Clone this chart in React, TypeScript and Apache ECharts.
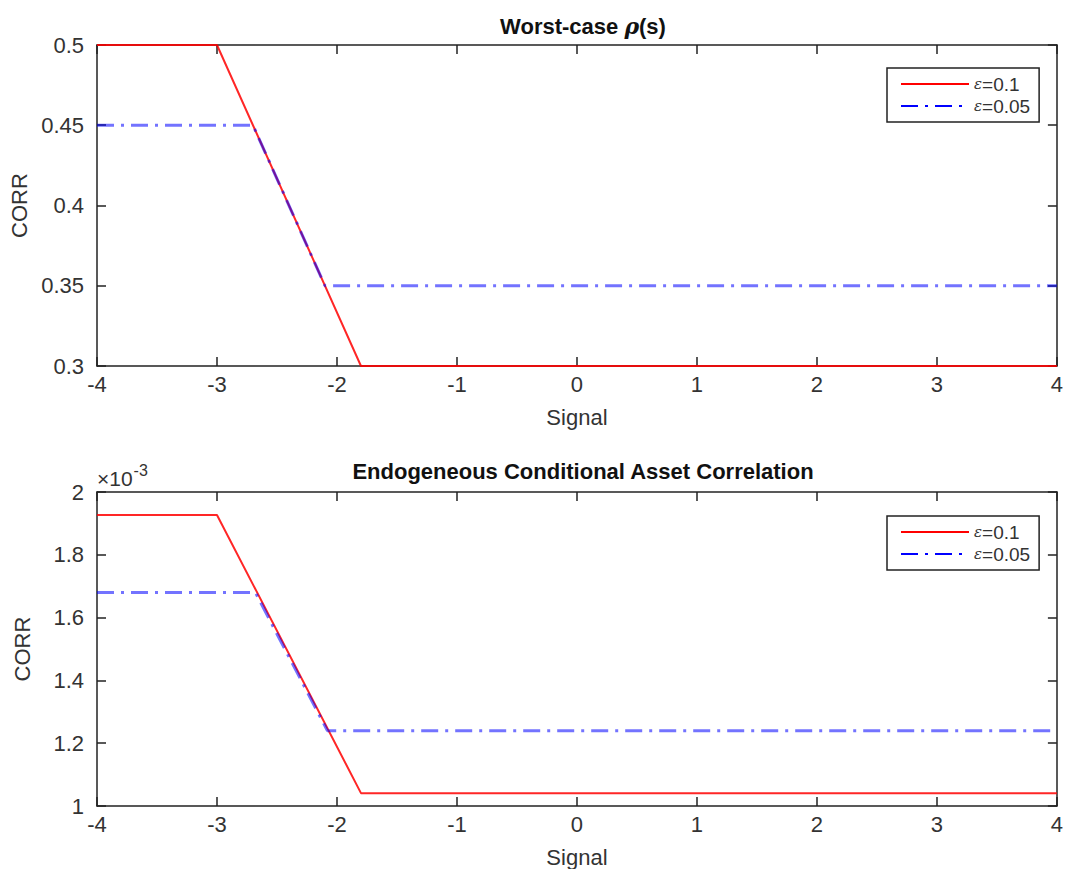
import React, { useEffect, useRef } from "react";
import * as echarts from "echarts";

const xTickMin = -4;
const xTickMax = 4;

const signalRed = [-4, -3, -1.8, 4];
const rhoRed = [0.5, 0.5, 0.3, 0.3];
const signalBlue = [-4, -2.7, -2.1, 4];
const rhoBlue = [0.45, 0.45, 0.35, 0.35];

const signalRed2 = [-4, -3, -1.8, 4];
const corrRed = [1.927, 1.927, 1.041, 1.041];
const signalBlue2 = [-4, -2.68, -2.08, 4];
const corrBlue = [1.68, 1.68, 1.24, 1.24];

const seriesNames = ["ε=0.1", "ε=0.05"];

const FONT = "'Liberation Sans', Arial, Helvetica, sans-serif";
const TXT = "#333";

function zip(xs: number[], ys: number[]) {
  return xs.map((x, i) => [x, ys[i]]);
}

export default function App() {
  const ref = useRef<HTMLDivElement>(null);
  useEffect(() => {
    document.body.style.margin = "0";
    const chart = echarts.init(ref.current!, null, { renderer: "svg" });
    const grids = [
      { left: 97, top: 45, width: 963, height: 321 },
      { left: 97, top: 492, width: 963, height: 316 },
    ];
    const xAxes: any[] = [];
    const yAxes: any[] = [];
    const yRanges = [
      { min: 0.3, max: 0.5, interval: 0.05 },
      { min: 1, max: 2, interval: 0.2 },
    ];
    grids.forEach((g, gi) => {
      const base = {
        type: "value",
        gridIndex: gi,
        min: xTickMin,
        max: xTickMax,
        interval: 1,
        splitLine: { show: false },
        axisLine: { show: true, onZero: false, lineStyle: { color: "#222", width: 1.5 } },
        axisTick: { show: true, inside: true, length: 9, lineStyle: { color: "#222", width: 1.5 } },
      };
      xAxes.push({
        ...base,
        position: "bottom",
        name: "Signal",
        nameLocation: "middle",
        nameGap: 40,
        nameTextStyle: { fontFamily: FONT, fontSize: 22, color: TXT },
        axisLabel: { fontFamily: FONT, fontSize: 22, color: TXT, margin: 7 },
      });
      xAxes.push({ ...base, position: "top", axisLabel: { show: false } });
      const yb = {
        type: "value",
        gridIndex: gi,
        ...yRanges[gi],
        splitLine: { show: false },
        axisLine: { show: true, onZero: false, lineStyle: { color: "#222", width: 1.5 } },
        axisTick: { show: true, inside: true, length: 9, lineStyle: { color: "#222", width: 1.5 } },
      };
      yAxes.push({
        ...yb,
        position: "left",
        name: "CORR",
        nameLocation: "middle",
        nameGap: 64,
        nameTextStyle: { fontFamily: FONT, fontSize: 22, color: TXT },
        axisLabel: { fontFamily: FONT, fontSize: 22, color: TXT, margin: 13 },
      });
      yAxes.push({ ...yb, position: "right", axisLabel: { show: false } });
    });

    const redStyle = { color: "#ff0000", width: 2, opacity: 0.85 };
    const blueStyle = { color: "#0000ff", width: 3, type: [17, 7, 3, 7], opacity: 0.55 };

    const mkSeries = (name: string, xi: number, yi: number, data: number[][], ls: any) => ({
      type: "line",
      name,
      xAxisIndex: xi,
      yAxisIndex: yi,
      data,
      symbol: "none",
      lineStyle: ls,
      itemStyle: { color: ls.color },
      z: name === seriesNames[0] ? 3 : 4,
    });

    const legendBase = {
      orient: "vertical",
      left: 887,
      padding: [6, 9, 6, 13],
      itemWidth: 68,
      itemHeight: 14,
      itemGap: 2,
      borderColor: "#222",
      borderWidth: 1.5,
      backgroundColor: "#fff",
      data: seriesNames,
      lineStyle: { opacity: 1, width: 2 },
      itemStyle: { opacity: 0, borderWidth: 0 },
      formatter: (n: string) => "{e|ε}" + n.slice(1),
      textStyle: {
        fontFamily: FONT,
        fontSize: 19,
        color: TXT,
        lineHeight: 20,
        rich: {
          e: { fontFamily: "'DejaVu Serif', serif", fontStyle: "italic", fontSize: 15, color: TXT },
        },
      },
      selectedMode: false,
    };

    const titleRich = {
      b: { fontFamily: FONT, fontSize: 22, fontWeight: "bold", color: "#111" },
      r: { fontFamily: "'DejaVu Serif', serif", fontSize: 22, fontStyle: "italic", fontWeight: "bold", color: "#111" },
    };

    chart.setOption({
      animation: false,
      backgroundColor: "#fff",
      title: [
        {
          text: "{b|Worst-case }{r|ρ}{b|(s)}",
          left: 578,
          top: 10,
          textAlign: "center",
          textStyle: { rich: titleRich },
        },
        {
          text: "{b|Endogeneous Conditional Asset Correlation}",
          left: 578,
          top: 455,
          textAlign: "center",
          textStyle: { rich: titleRich },
        },
      ],
      grid: grids,
      xAxis: xAxes,
      yAxis: yAxes,
      legend: [
        { ...legendBase, top: 68 },
        { ...legendBase, top: 516 },
      ],
      graphic: [
        {
          type: "text",
          left: 97,
          top: 462,
          style: {
            text: "×10{s|-3}",
            fontFamily: FONT,
            fontSize: 21,
            fill: TXT,
            rich: { s: { fontFamily: FONT, fontSize: 16, fill: TXT, verticalAlign: "top", padding: [0, 0, 16, 1] } },
          },
        },
      ],
      series: [
        mkSeries(seriesNames[0], 0, 0, zip(signalRed, rhoRed), redStyle),
        mkSeries(seriesNames[1], 0, 0, zip(signalBlue, rhoBlue), blueStyle),
        mkSeries(seriesNames[0], 2, 2, zip(signalRed2, corrRed), redStyle),
        mkSeries(seriesNames[1], 2, 2, zip(signalBlue2, corrBlue), blueStyle),
      ],
    });
    return () => chart.dispose();
  }, []);
  return <div ref={ref} style={{ width: 1066, height: 869 }} />;
}
